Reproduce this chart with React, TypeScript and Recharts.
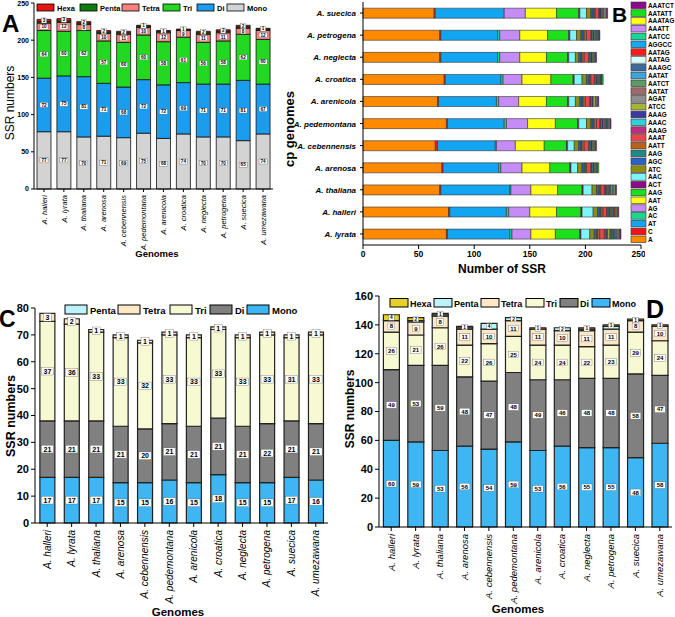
import React from "react";
import { BarChart, Bar, XAxis, YAxis, LabelList } from "recharts";

const FONT = "'Liberation Sans', Arial, Helvetica, sans-serif";

// ---------- Panel A / C / D categories ----------
const genomes12 = [
  "A. halleri", "A. lyrata", "A. thaliana", "A. arenosa", "A. cebennensis", "A. pedemontana",
  "A. arenicola", "A. croatica", "A. neglecta", "A. petrogena", "A. suecica", "A. umezawana",
];

// Panel A values
const aMono = [77, 77, 70, 71, 69, 75, 68, 74, 70, 70, 65, 74];
const aDi = [72, 75, 81, 71, 68, 72, 72, 69, 71, 71, 81, 67];
const aTri = [64, 60, 62, 57, 60, 60, 58, 61, 56, 58, 62, 60];
const aTetra = [10, 12, 8, 10, 11, 10, 12, 9, 11, 11, 8, 12];
const aPenta = [2, 2, 2, 2, 2, 2, 2, 1, 2, 2, 2, 2];
const aHexa = [3, 3, 2, 2, 2, 1, 1, 1, 2, 2, 2, 1];
const aTicks = [0, 50, 100, 150, 200, 250];

// Panel C values
const cMono = [17, 17, 17, 15, 15, 16, 15, 18, 15, 15, 17, 16];
const cDi = [21, 21, 21, 21, 20, 21, 21, 21, 21, 22, 21, 21];
const cTri = [37, 36, 33, 33, 32, 33, 33, 33, 33, 33, 31, 33];
const cTetra = [3, 2, 1, 1, 1, 1, 1, 1, 1, 1, 1, 1];
const cPenta = [0, 0, 0, 0, 0, 0, 0, 0, 0, 0, 0, 0];
const cTicks = [0, 10, 20, 30, 40, 50, 60, 70, 80];

// Panel D values
const dMono = [60, 59, 53, 56, 54, 59, 53, 56, 55, 55, 48, 58];
const dDi = [49, 53, 59, 48, 47, 48, 49, 46, 48, 48, 58, 47];
const dTri = [26, 21, 26, 22, 26, 25, 24, 24, 22, 23, 29, 24];
const dTetra = [8, 9, 8, 11, 10, 11, 11, 10, 11, 11, 8, 10];
const dPenta = [0, 1, 1, 1, 4, 2, 0, 2, 1, 2, 0, 0];
const dHexa = [4, 2, 1, 1, 0, 0, 1, 0, 1, 1, 1, 1];
const dTicks = [0, 20, 40, 60, 80, 100, 120, 140, 160];

// ---------- Panel B ----------
const genomesB = [
  "A. suecica", "A. petrogena", "A. neglecta", "A. croatica", "A. arenicola", "A. pedemontana",
  "A. cebennensis", "A. arenosa", "A. thaliana", "A. halleri", "A. lyrata",
];
const bTicks = [0, 50, 100, 150, 200, 250];

const b_A = [64, 69, 69, 73, 67, 75, 65, 71, 69, 77, 75];
const b_C = [1, 1, 1, 1, 1, 1, 2, 1, 1, 1, 1];
const b_AT = [62, 51, 51, 50, 52, 51, 52, 50, 62, 51, 56];
const b_AC = [0, 2, 2, 2, 2, 2, 1, 2, 1, 2, 2];
const b_AG = [19, 18, 18, 17, 18, 19, 17, 19, 18, 19, 17];
const b_AAT = [28, 25, 24, 26, 25, 25, 26, 25, 24, 24, 22];
const b_AAG = [20, 19, 19, 20, 19, 20, 20, 18, 22, 22, 22];
const b_ACT = [1, 1, 1, 1, 1, 1, 1, 1, 1, 1, 1];
const b_AAC = [6, 6, 6, 7, 6, 7, 6, 6, 8, 10, 8];
const b_ATC = [4, 4, 3, 4, 4, 4, 4, 4, 4, 4, 4];
const b_AGC = [2, 2, 2, 2, 2, 2, 2, 2, 2, 2, 2];
const b_AAG2 = [1, 1, 1, 1, 1, 1, 1, 1, 1, 1, 1];
const b_AATT = [1, 2, 2, 1, 2, 2, 2, 1, 1, 2, 2];
const b_AAAT = [3, 4, 4, 3, 4, 3, 4, 4, 3, 3, 4];
const b_AAAG = [1, 1, 1, 1, 1, 1, 1, 1, 1, 1, 1];
const b_AAAC = [0, 1, 1, 1, 1, 1, 1, 1, 0, 1, 1];
const b_AAAG2 = [1, 1, 1, 1, 1, 1, 1, 1, 1, 1, 1];
const b_ATCC = [1, 1, 1, 1, 2, 1, 1, 1, 1, 1, 2];
const b_AGAT = [1, 1, 1, 1, 1, 1, 1, 1, 1, 1, 1];
const b_AATAT = [1, 0, 0, 0, 0, 1, 0, 0, 1, 0, 1];
const b_AATCT = [0, 0, 0, 0, 0, 0, 0, 0, 1, 0, 1];
const b_AATAT2 = [0, 1, 1, 0, 0, 0, 1, 0, 0, 1, 0];
const b_AAAGC = [0, 0, 0, 1, 0, 1, 0, 0, 0, 1, 1];
const b_AATAG = [1, 0, 0, 0, 1, 0, 0, 0, 1, 0, 0];
const b_AATAG2 = [0, 0, 0, 1, 0, 0, 1, 0, 0, 1, 0];
const b_AGGCC = [0, 0, 0, 0, 0, 1, 0, 0, 1, 0, 1];
const b_AATCC = [0, 1, 0, 0, 0, 0, 0, 1, 0, 0, 1];
const b_AAATT = [0, 0, 0, 0, 0, 0, 0, 0, 1, 1, 1];
const b_AAATAG = [1, 0, 0, 0, 0, 1, 0, 0, 1, 1, 1];
const b_AATATT = [0, 0, 0, 1, 0, 0, 0, 1, 0, 0, 1];
const b_AAATCT = [1, 1, 1, 0, 1, 1, 0, 0, 1, 1, 1];

// stacking order (left -> right), label, colour
const bSeries: { key: string; label: string; color: string; values: number[] }[] = [
  { key: "A", label: "A", color: "#ff8a00", values: b_A },
  { key: "C", label: "C", color: "#ff1010", values: b_C },
  { key: "AT", label: "AT", color: "#12a6f2", values: b_AT },
  { key: "AC", label: "AC", color: "#16d88e", values: b_AC },
  { key: "AG", label: "AG", color: "#c58cf7", values: b_AG },
  { key: "AAT", label: "AAT", color: "#ffff14", values: b_AAT },
  { key: "AAG", label: "AAG", color: "#1de01d", values: b_AAG },
  { key: "ACT", label: "ACT", color: "#8a0a8a", values: b_ACT },
  { key: "AAC", label: "AAC", color: "#7ef6f6", values: b_AAC },
  { key: "ATC", label: "ATC", color: "#8d8d14", values: b_ATC },
  { key: "AGC", label: "AGC", color: "#2a64c0", values: b_AGC },
  { key: "AAG2", label: "AAG", color: "#1f8a8a", values: b_AAG2 },
  { key: "AATT", label: "AATT", color: "#b8621c", values: b_AATT },
  { key: "AAAT", label: "AAAT", color: "#f0444a", values: b_AAAT },
  { key: "AAAG", label: "AAAG", color: "#c02c80", values: b_AAAG },
  { key: "AAAC", label: "AAAC", color: "#2fd0d8", values: b_AAAC },
  { key: "AAAG2", label: "AAAG", color: "#3a3aa0", values: b_AAAG2 },
  { key: "ATCC", label: "ATCC", color: "#a6b43a", values: b_ATCC },
  { key: "AGAT", label: "AGAT", color: "#8e8e8e", values: b_AGAT },
  { key: "AATAT", label: "AATAT", color: "#a06a6a", values: b_AATAT },
  { key: "AATCT", label: "AATCT", color: "#5f9a64", values: b_AATCT },
  { key: "AATAT2", label: "AATAT", color: "#3aa6dc", values: b_AATAT2 },
  { key: "AAAGC", label: "AAAGC", color: "#3c6aa0", values: b_AAAGC },
  { key: "AATAG", label: "AATAG", color: "#d8fafa", values: b_AATAG },
  { key: "AATAG2", label: "AATAG", color: "#ff1a1a", values: b_AATAG2 },
  { key: "AGGCC", label: "AGGCC", color: "#12aaf4", values: b_AGGCC },
  { key: "AATCC", label: "AATCC", color: "#18d898", values: b_AATCC },
  { key: "AAATT", label: "AAATT", color: "#c98cf6", values: b_AAATT },
  { key: "AAATAG", label: "AAATAG", color: "#ffff1a", values: b_AAATAG },
  { key: "AATATT", label: "AATATT", color: "#16e016", values: b_AATATT },
  { key: "AAATCT", label: "AAATCT", color: "#8c0a8c", values: b_AAATCT },
];

// ---------- data tables ----------
// pentaLab: the penta value is only labelled when no hexa segment sits on top of it
const dataA = genomes12.map((name, i) => ({
  name, mono: aMono[i], di: aDi[i], tri: aTri[i], tetra: aTetra[i], penta: aPenta[i], hexa: aHexa[i],
  pentaLab: aHexa[i] > 0 ? null : aPenta[i],
}));
const dataC = genomes12.map((name, i) => ({
  name, mono: cMono[i], di: cDi[i], tri: cTri[i], tetra: cTetra[i], penta: cPenta[i],
}));
const dataD = genomes12.map((name, i) => ({
  name, mono: dMono[i], di: dDi[i], tri: dTri[i], tetra: dTetra[i], penta: dPenta[i], hexa: dHexa[i],
  pentaLab: dHexa[i] > 0 ? null : dPenta[i],
}));
const dataB = genomesB.map((name, i) => {
  const row: any = { name };
  bSeries.forEach((s) => (row[s.key] = s.values[i]));
  return row;
});

const colA = { mono: "#d3d3d3", di: "#1c9cec", tri: "#22d822", tetra: "#f78080", penta: "#127a12", hexa: "#e81414" };
const colCD = { mono: "#3fb6f4", di: "#808080", tri: "#f6f9d2", tetra: "#fde8c6", penta: "#bcf2fa", hexa: "#e6d226" };

// ---------- helpers ----------
function makeBoxLabel(fs: number) {
  return (props: any) => {
    const { x, y, width, height, value } = props;
    if (value === undefined || value === null || value === 0 || value === "") return null;
    const cx = Number(x) + Number(width) / 2;
    const cy = Number(y) + Number(height) / 2;
    const s = String(value);
    const w = s.length * fs * 0.6 + fs * 0.55;
    const h = fs * 1.1;
    return (
      <g>
        <rect x={cx - w / 2} y={cy - h / 2} width={w} height={h} fill="#fff" stroke="#444" strokeWidth={0.3} />
        <text x={cx} y={cy + fs * 0.36} textAnchor="middle" fontSize={fs} fontWeight={700} fontFamily={FONT} fill="#000">
          {s}
        </text>
      </g>
    );
  };
}

const RotTick = (props: any) => {
  const { x, y, payload, fs } = props;
  return (
    <text
      x={x - 1}
      y={y + fs * 0.35}
      transform={`rotate(-90 ${x} ${y})`}
      textAnchor="end"
      fontSize={fs}
      fontStyle="italic"
      fontFamily={FONT}
      fill="#000"
    >
      {payload.value}
    </text>
  );
};

const BTick = (props: any) => {
  const { x, y, payload } = props;
  return (
    <text x={x - 2} y={y + 3} textAnchor="end" fontSize={8} fontWeight={700} fontStyle="italic" fontFamily={FONT} fill="#000">
      {payload.value}
    </text>
  );
};

const axisStroke = { stroke: "#000", strokeWidth: 1 };

// legends (layout constants)
const legendA = [
  { label: "Hexa", color: colA.hexa, x: 37 },
  { label: "Penta", color: colA.penta, x: 80 },
  { label: "Tetra", color: colA.tetra, x: 122 },
  { label: "Tri", color: colA.tri, x: 163 },
  { label: "Di", color: colA.di, x: 197 },
  { label: "Mono", color: colA.mono, x: 227 },
];
const legendC = [
  { label: "Penta", color: colCD.penta, x: 65 },
  { label: "Tetra", color: colCD.tetra, x: 118 },
  { label: "Tri", color: colCD.tri, x: 170 },
  { label: "Di", color: colCD.di, x: 210 },
  { label: "Mono", color: colCD.mono, x: 247 },
];
const legendD = [
  { label: "Hexa", color: colCD.hexa, x: 390 },
  { label: "Penta", color: colCD.penta, x: 434 },
  { label: "Tetra", color: colCD.tetra, x: 481 },
  { label: "Tri", color: colCD.tri, x: 526 },
  { label: "Di", color: colCD.di, x: 560 },
  { label: "Mono", color: colCD.mono, x: 592 },
];

export default function App() {
  const labA = makeBoxLabel(4.6);
  const labC = makeBoxLabel(7);
  const labD = makeBoxLabel(6);
  const labDSmall = makeBoxLabel(4.8);

  return (
    <div
      style={{
        position: "absolute",
        left: 0,
        top: 0,
        width: 675,
        height: 617,
        background: "#fff",
        overflow: "hidden",
        fontFamily: FONT,
      }}
    >
      {/* Panel A */}
      <div style={{ position: "absolute", left: 0, top: 0 }}>
        <BarChart width={280} height={270} data={dataA} margin={{ top: 3, right: 7, bottom: 0, left: 0 }} barCategoryGap="15%">
          <XAxis dataKey="name" interval={0} height={81} tick={<RotTick fs={7.5} />} tickSize={3} axisLine={axisStroke} tickLine={axisStroke} />
          <YAxis
            width={34}
            domain={[0, 250]}
            ticks={aTicks}
            tickSize={3}
            axisLine={axisStroke}
            tickLine={axisStroke}
            tick={{ fontSize: 7, fontWeight: 700, fill: "#000", fontFamily: FONT }}
          />
          {(["mono", "di", "tri", "tetra", "penta", "hexa"] as const).map((k) => (
            <Bar key={k} dataKey={k} stackId="a" fill={colA[k]} stroke="#111" strokeWidth={0.8} isAnimationActive={false}>
              <LabelList dataKey={k === "penta" ? "pentaLab" : k} content={labA} />
            </Bar>
          ))}
        </BarChart>
      </div>

      {/* Panel B */}
      <div style={{ position: "absolute", left: 280, top: 0 }}>
        <BarChart
          width={365}
          height={285}
          data={dataB}
          layout="vertical"
          margin={{ top: 2, right: 4, bottom: 0, left: 0 }}
          barCategoryGap="28%"
        >
          <XAxis
            type="number"
            domain={[0, 250]}
            ticks={bTicks}
            height={40}
            tickSize={4}
            axisLine={axisStroke}
            tickLine={axisStroke}
            tick={{ fontSize: 8.5, fontWeight: 700, fill: "#000", fontFamily: FONT }}
          />
          <YAxis
            type="category"
            dataKey="name"
            interval={0}
            width={83}
            tick={<BTick />}
            tickSize={3}
            axisLine={axisStroke}
            tickLine={axisStroke}
          />
          {bSeries.map((s) => (
            <Bar key={s.key} dataKey={s.key} stackId="b" fill={s.color} stroke="#333" strokeWidth={0.6} isAnimationActive={false} />
          ))}
        </BarChart>
      </div>

      {/* Panel C */}
      <div style={{ position: "absolute", left: 0, top: 300 }}>
        <BarChart width={335} height={317} data={dataC} margin={{ top: 8, right: 7, bottom: 4, left: 0 }} barCategoryGap="20%">
          <XAxis dataKey="name" interval={0} height={90} tick={<RotTick fs={10} />} tickSize={4} axisLine={axisStroke} tickLine={axisStroke} />
          <YAxis
            width={35}
            domain={[0, 80]}
            ticks={cTicks}
            tickSize={4}
            axisLine={axisStroke}
            tickLine={axisStroke}
            tick={{ fontSize: 11, fontWeight: 700, fill: "#000", fontFamily: FONT }}
          />
          {(["mono", "di", "tri", "tetra", "penta"] as const).map((k) => (
            <Bar key={k} dataKey={k} stackId="c" fill={colCD[k]} stroke="#222" strokeWidth={1.2} isAnimationActive={false}>
              <LabelList dataKey={k} content={labC} />
            </Bar>
          ))}
        </BarChart>
      </div>

      {/* Panel D */}
      <div style={{ position: "absolute", left: 340, top: 290 }}>
        <BarChart width={335} height={327} data={dataD} margin={{ top: 6, right: 3, bottom: 2, left: 0 }} barCategoryGap="18%">
          <XAxis dataKey="name" interval={0} height={88} tick={<RotTick fs={9.5} />} tickSize={4} axisLine={axisStroke} tickLine={axisStroke} />
          <YAxis
            width={39}
            domain={[0, 160]}
            ticks={dTicks}
            tickSize={4}
            axisLine={axisStroke}
            tickLine={axisStroke}
            tick={{ fontSize: 11, fontWeight: 700, fill: "#000", fontFamily: FONT }}
          />
          {(["mono", "di", "tri", "tetra", "penta", "hexa"] as const).map((k) => (
            <Bar key={k} dataKey={k} stackId="d" fill={colCD[k]} stroke="#222" strokeWidth={1.2} isAnimationActive={false}>
              <LabelList
                dataKey={k === "penta" ? "pentaLab" : k}
                content={k === "penta" || k === "hexa" ? labDSmall : labD}
              />
            </Bar>
          ))}
        </BarChart>
      </div>

      {/* Overlay: titles, panel letters, legends */}
      <svg width={675} height={617} style={{ position: "absolute", left: 0, top: 0, pointerEvents: "none" }}>
        <g fontFamily={FONT} fill="#000">
          {/* panel letters */}
          <text x={2} y={32} fontSize={24} fontWeight={700}>A</text>
          <text x={612} y={22} fontSize={21} fontWeight={700}>B</text>
          <text x={-1} y={327} fontSize={23} fontWeight={700}>C</text>
          <text x={646} y={318} fontSize={25} fontWeight={700}>D</text>

          {/* axis titles */}
          <text transform="translate(14,103) rotate(-90)" textAnchor="middle" fontSize={12}>SSR numbers</text>
          <text x={157} y={257} textAnchor="middle" fontSize={9.5} fontWeight={700}>Genomes</text>

          <text transform="translate(294,129) rotate(-90)" textAnchor="middle" fontSize={13} fontWeight={700}>cp genomes</text>
          <text x={502} y={273} textAnchor="middle" fontSize={12} fontWeight={700}>Number of SSR</text>

          <text transform="translate(15,416) rotate(-90)" textAnchor="middle" fontSize={12.5} fontWeight={700}>SSR numbers</text>
          <text x={178} y={616} textAnchor="middle" fontSize={11.5} fontWeight={700}>Genomes</text>

          <text transform="translate(354,409) rotate(-90)" textAnchor="middle" fontSize={12} fontWeight={700}>SSR numbers</text>
          <text x={518} y={613} textAnchor="middle" fontSize={11.5} fontWeight={700}>Genomes</text>

          {/* legend A */}
          {legendA.map((l) => (
            <g key={"la" + l.label}>
              <rect x={l.x} y={4} width={17} height={7} fill={l.color} stroke="#000" strokeWidth={0.8} />
              <text x={l.x + 20} y={10.5} fontSize={7.5} fontWeight={700}>{l.label}</text>
            </g>
          ))}

          {/* legend B */}
          {bSeries
            .slice()
            .reverse()
            .map((s, i) => (
              <g key={"lb" + s.key}>
                <rect x={631} y={2 + i * 7.8} width={15} height={6.6} fill={s.color} stroke="#333" strokeWidth={0.6} />
                <text x={648} y={2 + i * 7.8 + 5.8} fontSize={6.4} fontWeight={700}>{s.label}</text>
              </g>
            ))}

          {/* legend C */}
          {legendC.map((l) => (
            <g key={"lc" + l.label}>
              <rect x={l.x} y={305} width={22} height={9} fill={l.color} stroke="#000" strokeWidth={1} />
              <text x={l.x + 25} y={313.5} fontSize={9.5} fontWeight={700}>{l.label}</text>
            </g>
          ))}

          {/* legend D */}
          {legendD.map((l) => (
            <g key={"ld" + l.label}>
              <rect x={l.x} y={298.5} width={18} height={8.5} fill={l.color} stroke="#000" strokeWidth={1} />
              <text x={l.x + 20} y={306.5} fontSize={9} fontWeight={700}>{l.label}</text>
            </g>
          ))}
        </g>
      </svg>
    </div>
  );
}
